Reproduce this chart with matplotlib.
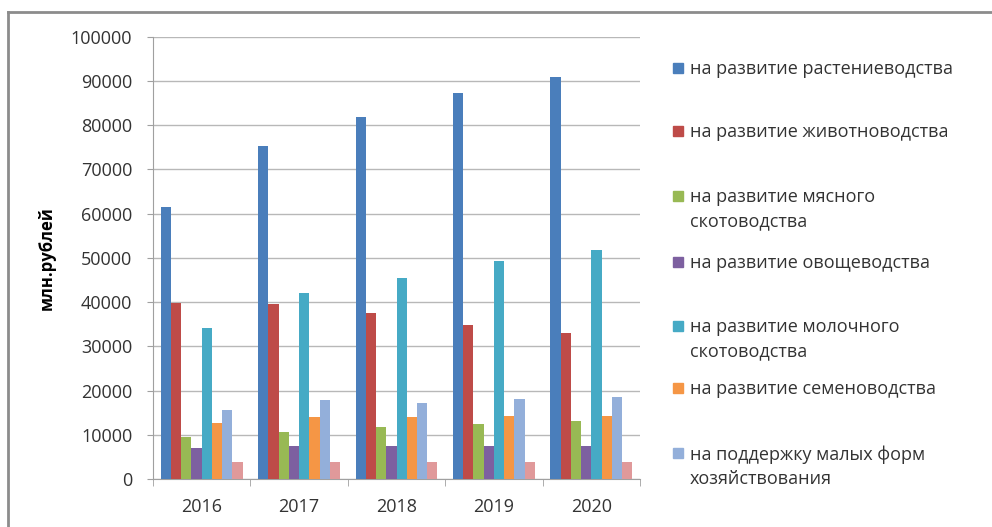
import matplotlib.pyplot as plt
from matplotlib.lines import Line2D
from matplotlib.patches import Rectangle
import numpy as np

plt.rcParams['font.family'] = ['Open Sans', 'DejaVu Sans']

years = ['2016', '2017', '2018', '2019', '2020']

crops = [61600, 75300, 81800, 87300, 90800]
livestock = [39900, 39600, 37600, 34900, 32900]
beef = [9400, 10600, 11700, 12400, 13200]
vegetables = [7000, 7500, 7500, 7500, 7500]
dairy = [34200, 42100, 45400, 49200, 51800]
seeds = [12600, 14100, 14100, 14300, 14300]
small_farms = [15600, 17900, 17100, 18000, 18500]
other = [3900, 3900, 3900, 3900, 3900]

labels = ['на развитие растениеводства',
          'на развитие животноводства',
          'на развитие мясного\nскотоводства',
          'на развитие овощеводства',
          'на развитие молочного\nскотоводства',
          'на развитие семеноводства',
          'на поддержку малых форм\nхозяйствования']

colors = ['#4A7EBB', '#BE4B48', '#98B954', '#7D60A0', '#46AAC5',
          '#F59645', '#93AFDA', '#E0999A']

series = [crops, livestock, beef, vegetables, dairy, seeds, small_farms, other]

fig = plt.figure(figsize=(9.92, 5.27), dpi=100)
ax = fig.add_axes([153 / 992, 1 - 479 / 527, 487 / 992, (479 - 36.7) / 527])

x = np.arange(len(years))
width = 0.105
for i, (vals, c) in enumerate(zip(series, colors)):
    ax.bar(x + (i - 3.5) * width, vals, width, color=c, zorder=3)

ax.set_xlim(-0.5, len(years) - 0.5)
ax.set_ylim(0, 100000)
ax.set_yticks(np.arange(0, 100001, 10000))
ax.yaxis.grid(True, color='#B8B8B8', linewidth=1.0, zorder=0)
ax.set_xticks(x)
ax.set_xticklabels(years)
ax.set_xticks(np.arange(-0.5, len(years), 1), minor=True)
ax.tick_params(axis='x', which='major', length=0, pad=14, labelsize=13, colors='#333333')
ax.tick_params(axis='x', which='minor', length=5, color='#A0A0A0')
ax.tick_params(axis='y', length=4, color='#A0A0A0', pad=11, labelsize=13, labelcolor='#333333')
for s in ['top', 'right']:
    ax.spines[s].set_visible(False)
ax.spines['left'].set_color('#A0A0A0')
ax.spines['bottom'].set_color('#A0A0A0')
ax.set_ylabel('млн.рублей', fontsize=12, fontweight='bold', labelpad=11)

# legend drawn by hand to follow the uneven spacing of the original
first_line_y = [68, 131, 196, 262, 326, 388, 453]
for lab, c, yy in zip(labels, colors, first_line_y):
    fig.patches.append(Rectangle((673 / 992, 1 - (yy + 5) / 527), 10 / 992, 10 / 527,
                                 transform=fig.transFigure, color=c))
    fig.text(690 / 992, 1 - (yy - 8) / 527, lab, fontsize=13, color='#333333',
             va='top', ha='left', linespacing=1.45)

# outer frame (top and left edges visible)
fig.add_artist(Line2D([8 / 992, 1], [1 - 12 / 527, 1 - 12 / 527], color='#8C8C8C', linewidth=2))
fig.add_artist(Line2D([8 / 992, 8 / 992], [1 - 12 / 527, 0], color='#8C8C8C', linewidth=2))

fig.savefig('out.png', dpi=100)
